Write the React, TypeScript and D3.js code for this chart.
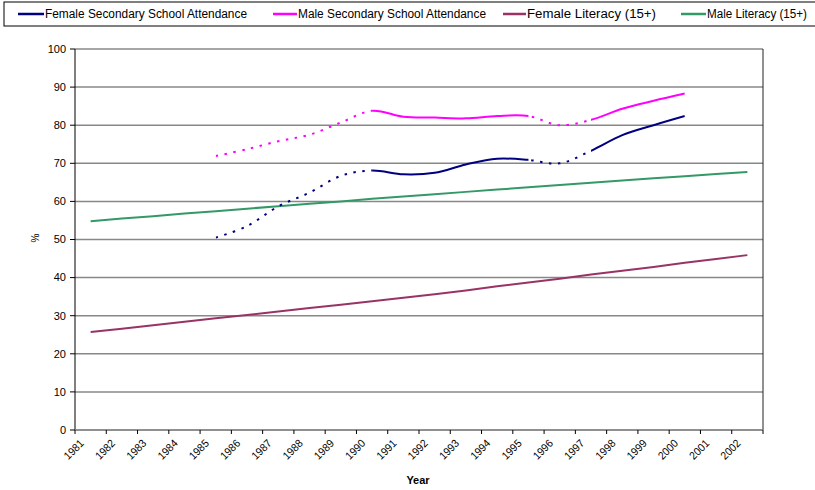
import React from "react";
import * as d3 from "d3";

const years = [1981,1982,1983,1984,1985,1986,1987,1988,1989,1990,1991,1992,1993,1994,1995,1996,1997,1998,1999,2000,2001,2002];
const femaleSecondary: (number|null)[] = [null,null,null,null,50.5,53.5,58.7,62.3,66.7,68.1,67.1,67.5,69.7,71.2,70.9,70.0,73.3,77.4,80.0,82.4,null,null];
const maleSecondary: (number|null)[] = [null,null,null,null,71.9,73.7,75.8,77.5,80.7,83.8,82.2,82.0,81.8,82.4,82.4,80.0,81.4,84.3,86.4,88.3,null,null];
const femaleLiteracy = [25.7,26.6,27.5,28.4,29.3,30.2,31.1,32.0,32.9,33.8,34.7,35.6,36.6,37.7,38.7,39.7,40.8,41.8,42.8,43.9,44.9,45.9];
const maleLiteracy = [54.8,55.5,56.1,56.8,57.4,58.1,58.7,59.4,60.0,60.7,61.3,61.9,62.5,63.1,63.7,64.3,64.9,65.5,66.1,66.6,67.2,67.7];
const attendanceSegments: [number, number, string][] = [[1985,1990,"dot"],[1990,1995,"solid"],[1995,1997,"dot"],[1997,2000,"solid"]];
const yTicks = [0,10,20,30,40,50,60,70,80,90,100];
const seriesNames = ["Female Secondary School Attendance","Male Secondary School Attendance","Female Literacy (15+)","Male Literacy (15+)"];
const seriesColors = ["#000080","#FF00FF","#993366","#339966"];

const W = 815, H = 490;
const L = 75, R = 763, T = 49, B = 430;
const FONT = "'Liberation Sans', Arial, sans-serif";

export default function App() {
  const x = d3.scaleBand<number>().domain(years).range([L, R]).padding(0);
  const cx = (yr: number) => (x(yr) as number) + x.bandwidth() / 2;
  const y = d3.scaleLinear().domain([0, 100]).range([B, T]);

  const smooth = d3.line<[number, number|null]>()
    .defined(d => d[1] != null)
    .x(d => cx(d[0]))
    .y(d => y(d[1] as number))
    .curve(d3.curveCardinal.tension(0));
  const straight = d3.line<[number, number]>()
    .x(d => cx(d[0]))
    .y(d => y(d[1]));

  const femSecPts = years.map((yr, i) => [yr, femaleSecondary[i]] as [number, number|null]);
  const maleSecPts = years.map((yr, i) => [yr, maleSecondary[i]] as [number, number|null]);
  const femLitPath = straight(years.map((yr, i) => [yr, femaleLiteracy[i]] as [number, number])) || "";
  const maleLitPath = straight(years.map((yr, i) => [yr, maleLiteracy[i]] as [number, number])) || "";
  const femSecPath = smooth(femSecPts) || "";
  const maleSecPath = smooth(maleSecPts) || "";

  const legendItems = [
    { x1: 18, x2: 44, tx: 45, w: 202 },
    { x1: 273, x2: 297, tx: 298, w: 188 },
    { x1: 503, x2: 526, tx: 527, w: 129 },
    { x1: 681, x2: 706, tx: 707, w: 100 },
  ];

  const boundaries = years.map(yr => x(yr) as number).concat([R]);

  return (
    <svg width={W} height={H} style={{ position: "absolute", left: 0, top: 0, background: "#fff" }} fontFamily={FONT}>
      <defs>
        {attendanceSegments.map(([a, b], i) => (
          <clipPath id={`seg${i}`} key={i}>
            <rect x={cx(a)} y={0} width={cx(b) - cx(a)} height={H} />
          </clipPath>
        ))}
      </defs>
      <rect x={0} y={0} width={W} height={H} fill="#fff" />

      {yTicks.map(t => (
        <line key={t} x1={L} x2={R} y1={y(t)} y2={y(t)} stroke="#888" strokeWidth={1.5} />
      ))}
      {yTicks.map(t => (
        <g key={"yt" + t}>
          <line x1={L - 5} x2={L} y1={y(t)} y2={y(t)} stroke="#000" strokeWidth={1} />
          <text x={66} y={y(t)} dy="0.35em" textAnchor="end" fontSize={11} fill="#000">{t}</text>
        </g>
      ))}
      <line x1={L} x2={L} y1={T} y2={B} stroke="#000" strokeWidth={1} />
      <line x1={R} x2={R} y1={T} y2={B} stroke="#222" strokeWidth={1} />
      <line x1={L} x2={R} y1={B} y2={B} stroke="#888" strokeWidth={1.5} />
      {boundaries.map((bx, i) => (
        <line key={"xt" + i} x1={bx} x2={bx} y1={B} y2={B + 4} stroke="#000" strokeWidth={1} />
      ))}
      {years.map(yr => (
        <text key={"xl" + yr} transform={`translate(${cx(yr) - 6},${444}) rotate(-45)`} textAnchor="end" fontSize={11} fill="#000" textLength={23} lengthAdjust="spacingAndGlyphs">{yr}</text>
      ))}
      <text x={418} y={484} textAnchor="middle" fontSize={11} fontWeight="bold" fill="#000">Year</text>
      <text transform={`translate(39,238) rotate(-90)`} textAnchor="middle" fontSize={10} fill="#000">%</text>

      <path d={femLitPath} fill="none" stroke={seriesColors[2]} strokeWidth={2} />
      <path d={maleLitPath} fill="none" stroke={seriesColors[3]} strokeWidth={2} />

      {[femSecPath, maleSecPath].map((p, si) => (
        <g key={"att" + si}>
          {attendanceSegments.map(([, , style], i) => (
            <path key={i} d={p} fill="none" stroke={seriesColors[si]} strokeWidth={2}
              strokeDasharray={style === "dot" ? "2.5,6.5" : undefined}
              clipPath={`url(#seg${i})`} />
          ))}
        </g>
      ))}

      <rect x={4} y={2} width={W} height={24} fill="#fff" stroke="#000" strokeWidth={1} />
      {legendItems.map((it, i) => (
        <g key={"lg" + i}>
          <line x1={it.x1} x2={it.x2} y1={14} y2={14} stroke={seriesColors[i]} strokeWidth={2.5} />
          <text x={it.tx} y={14} dy="0.35em" fontSize={12} fill="#000" textLength={it.w} lengthAdjust="spacingAndGlyphs">{seriesNames[i]}</text>
        </g>
      ))}
    </svg>
  );
}
